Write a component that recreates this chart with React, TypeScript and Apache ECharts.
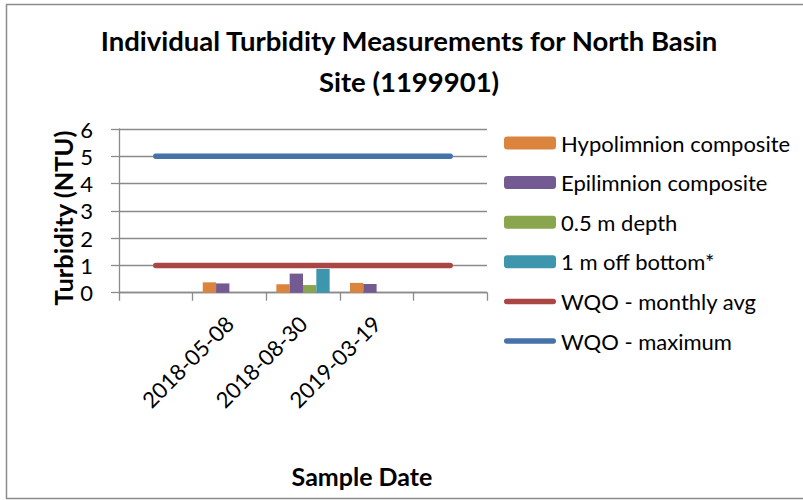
import React, { useEffect, useRef } from "react";
import * as echarts from "echarts";

const categories = [" ", "2018-05-08", "2018-08-30", "2019-03-19", "  "];
const hypolimnion = [null, 0.38, 0.31, 0.36, null];
const epilimnion = [null, 0.34, 0.7, 0.32, null];
const halfMeter = [null, null, 0.28, null, null];
const offBottom = [null, null, 0.87, null, null];
const wqoMonthly = [1, 1, 1, 1, 1];
const wqoMax = [5, 5, 5, 5, 5];
const yTicks = { min: 0, max: 6, interval: 1 };

const FONT = "Lato";
const LINE_ICON =
  "path://M2.75,0 L49.25,0 A2.75,2.75 0 0 1 49.25,5.5 L2.75,5.5 A2.75,2.75 0 0 1 2.75,0 Z";

export default function App() {
  const ref = useRef<HTMLDivElement>(null);
  useEffect(() => {
    document.body.style.margin = "0";
    const chart = echarts.init(ref.current!, null, { renderer: "svg" });
    const gray = "#8a8a8a";
    const barSeries = (name: string, data: (number | null)[], color: string) => ({
      name,
      type: "bar",
      data,
      barGap: "0%",
      barCategoryGap: "27.6%",
      itemStyle: { color },
    });
    const lineSeries = (name: string, data: number[], color: string) => ({
      name,
      type: "line",
      data,
      symbol: "none",
      lineStyle: { color, width: 5.5, cap: "round" },
      itemStyle: { color },
    });
    chart.setOption({
      animation: false,
      textStyle: { fontFamily: FONT },
      title: {
        text: "Individual Turbidity Measurements for North Basin\nSite (1199901)",
        left: 404,
        top: 15,
        textAlign: "center",
        textStyle: { fontFamily: FONT, fontWeight: "bold", fontSize: 27.5, lineHeight: 41, color: "#000" },
      },
      grid: { left: 119, top: 129, width: 368, height: 163.7, containLabel: false },
      legend: {
        orient: "vertical",
        left: 504,
        top: 132,
        padding: 0,
        itemWidth: 52,
        itemHeight: 13,
        itemGap: 17.6,
        textStyle: { fontFamily: FONT, fontSize: 22, lineHeight: 22, color: "#000" },
        data: [
          { name: "Hypolimnion composite" },
          { name: "Epilimnion composite" },
          { name: "0.5 m depth" },
          { name: "1 m off bottom*" },
          { name: "WQO - monthly avg", icon: LINE_ICON },
          { name: "WQO - maximum", icon: LINE_ICON },
        ],
      },
      xAxis: {
        type: "category",
        data: categories,
        axisLine: { lineStyle: { color: gray, width: 1.3 } },
        axisTick: { show: true, length: 8, interval: 0, lineStyle: { color: gray, width: 1.3 } },
        axisLabel: { interval: 0, rotate: 45, margin: 27, fontFamily: FONT, fontSize: 22, color: "#000" },
      },
      yAxis: {
        type: "value",
        min: yTicks.min,
        max: yTicks.max,
        interval: yTicks.interval,
        axisLine: { show: true, lineStyle: { color: gray, width: 1.3 } },
        axisTick: { show: true, length: 8, lineStyle: { color: gray, width: 1.3 } },
        axisLabel: { margin: 26, fontFamily: FONT, fontSize: 22, color: "#000" },
        splitLine: { show: true, lineStyle: { color: gray, width: 1.3 } },
      },
      graphic: [
        {
          type: "rect",
          shape: { x: 6.5, y: 4.5, width: 805, height: 494 },
          style: { fill: "none", stroke: "#8c8c8c", lineWidth: 1.5 },
          silent: true,
        },
        {
          type: "text",
          x: 63,
          y: 218,
          rotation: Math.PI / 2,
          style: {
            text: "Turbidity (NTU)",
            fontFamily: FONT,
            fontWeight: "bold",
            fontSize: 25.5,
            fill: "#000",
            align: "center",
            verticalAlign: "middle",
          },
        },
        {
          type: "text",
          x: 362,
          y: 476,
          style: {
            text: "Sample Date",
            fontFamily: FONT,
            fontWeight: "bold",
            fontSize: 25,
            fill: "#000",
            align: "center",
            verticalAlign: "middle",
          },
        },
      ],
      series: [
        barSeries("Hypolimnion composite", hypolimnion, "#DB843D"),
        barSeries("Epilimnion composite", epilimnion, "#745A92"),
        barSeries("0.5 m depth", halfMeter, "#89A54E"),
        barSeries("1 m off bottom*", offBottom, "#3D96AE"),
        lineSeries("WQO - monthly avg", wqoMonthly, "#AA4643"),
        lineSeries("WQO - maximum", wqoMax, "#4572A7"),
      ],
    });
    return () => chart.dispose();
  }, []);
  return <div ref={ref} style={{ width: 803, height: 500 }} />;
}
